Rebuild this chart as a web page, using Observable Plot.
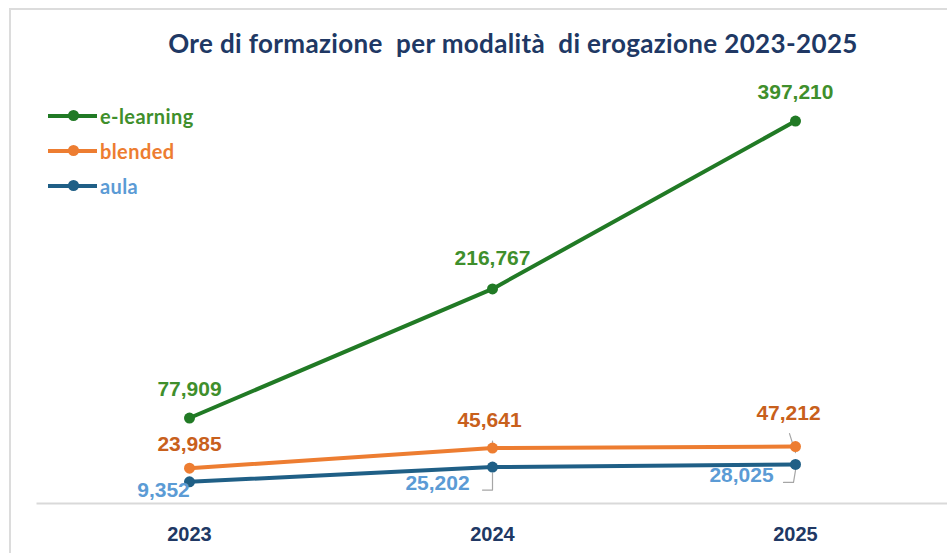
<!DOCTYPE html>
<html>
<head>
<meta charset="utf-8">
<script src="https://cdn.jsdelivr.net/npm/d3@7"></script>
<script src="https://cdn.jsdelivr.net/npm/@observablehq/plot@0.6"></script>
<style>
  html, body { margin: 0; padding: 0; background: #fff; overflow: hidden; }
  #wrap { position: relative; width: 947px; height: 553px; }
  #frame { position: absolute; left: 9px; top: 8px; width: 960px; height: 560px; border-left: 2px solid #dcdcdc; border-top: 2px solid #dcdcdc; box-sizing: border-box; }
  #title { position: absolute; left: 0; width: 1026px; top: 27px; text-align: center; font-family: Lato, "Open Sans", sans-serif; font-weight: bold; font-size: 26px; letter-spacing: 0.35px; color: #203864; white-space: pre; }
  #legend { position: absolute; left: 48px; top: 98px; font-family: Lato, "Open Sans", sans-serif; font-weight: bold; font-size: 20px; letter-spacing: 0.4px; }
  .item { display: flex; align-items: center; height: 35px; }
  .sw { position: relative; width: 49px; height: 4px; margin-right: 3px; }
  .sw i { position: absolute; left: 20px; top: -3.5px; width: 11px; height: 11px; border-radius: 50%; }
  #chart { position: absolute; left: 0; top: 0; }
  #chart text.lbl { letter-spacing: 0.6px; }
</style>
</head>
<body>
<div id="wrap">
  <div id="frame"></div>
  <div id="chart"></div>
  <div id="title"></div>
  <div id="legend"></div>
</div>
<script>
const titleText = "Ore di formazione  per modalità  di erogazione 2023-2025";
const years = ["2023", "2024", "2025"];
const seriesNames = ["e-learning", "blended", "aula"];
const elearning = [77909, 216767, 397210];
const blended = [23985, 45641, 47212];
const aula = [9352, 25202, 28025];
const lineColors = ["#217a25", "#ed7d31", "#1f5f86"];
const labelColors = ["#3f8f2c", "#c8601c", "#5b9bd5"];
const legendTextColors = ["#3f8f2c", "#ed7d31", "#5b9bd5"];

const valuesBySeries = [elearning, blended, aula];
const data = [];
seriesNames.forEach((s, i) => years.forEach((y, j) => data.push({series: s, year: y, value: valuesBySeries[i][j], idx: i, j})));

document.getElementById("title").textContent = titleText;
const legend = document.getElementById("legend");
seriesNames.forEach((s, i) => {
  const d = document.createElement("div");
  d.className = "item";
  d.innerHTML = `<span class="sw" style="background:${lineColors[i]}"><i style="background:${lineColors[i]}"></i></span><span style="color:${legendTextColors[i]}">${s}</span>`;
  legend.appendChild(d);
});

// label offsets (px) relative to each point
const offsets = {
  "e-learning": [[0, -29], [0, -31], [0, -29]],
  "blended": [[0, -24], [-3, -28], [-7, -33]],
  "aula": [[-26, 8], [-55, 16], [-54, 11]]
};
const fmt = d3.format(",");

const labelMarks = data.map(d => Plot.text([d], {
  x: "year", y: "value", text: d => fmt(d.value),
  dx: offsets[d.series][d.j][0], dy: offsets[d.series][d.j][1],
  fill: labelColors[d.idx], fontSize: 21, fontWeight: "bold",
  textAnchor: "middle", lineAnchor: "middle", className: "lbl"
}));

const leaderL = {draw(ctx) { ctx.moveTo(0, 0); ctx.lineTo(0, 17); ctx.lineTo(-10, 17); }};
const leaderUp = {draw(ctx) { ctx.moveTo(0, -2); ctx.lineTo(0, -13); }};
const leaderL25 = {draw(ctx) { ctx.moveTo(0, 0); ctx.lineTo(-2, 12); ctx.lineTo(-12, 12); }};
const leaderSlant = {draw(ctx) { ctx.moveTo(0, 0); ctx.lineTo(-6, -19); }};

const aulaData = data.filter(d => d.series === "aula");
const blendData = data.filter(d => d.series === "blended");

const chart = Plot.plot({
  width: 947, height: 553,
  marginTop: 118, marginBottom: 50, marginLeft: 37, marginRight: 0,
  style: {fontFamily: "'Liberation Sans', Arial, sans-serif", background: "transparent", overflow: "visible"},
  x: {type: "point", domain: years, padding: 0.5, label: null},
  y: {domain: [-14000, 400000], axis: null},
  marks: [
    Plot.frame({anchor: "bottom", stroke: "#d9d9d9", strokeWidth: 2}),
    Plot.axisX({tickSize: 0, tickPadding: 23, fontSize: 20, fontWeight: "bold", fill: "#203864", label: null}),
    Plot.vector([aulaData[1]], {x: "year", y: "value", shape: leaderL, stroke: "#a6a6a6", strokeWidth: 1.2}),
    Plot.vector([blendData[1]], {x: "year", y: "value", shape: leaderUp, stroke: "#a6a6a6", strokeWidth: 1.2}),
    Plot.vector([aulaData[2]], {x: "year", y: "value", shape: leaderL25, stroke: "#a6a6a6", strokeWidth: 1.2}),
    Plot.vector([blendData[2]], {x: "year", y: "value", shape: leaderSlant, stroke: "#a6a6a6", strokeWidth: 1.2}),
    ...seriesNames.map((s, i) => Plot.line(data.filter(d => d.series === s), {x: "year", y: "value", stroke: lineColors[i], strokeWidth: 4})),
    ...seriesNames.map((s, i) => Plot.dot(data.filter(d => d.series === s), {x: "year", y: "value", fill: lineColors[i], r: 5.5})),
    ...labelMarks
  ]
});
document.getElementById("chart").appendChild(chart);
</script>
</body>
</html>
